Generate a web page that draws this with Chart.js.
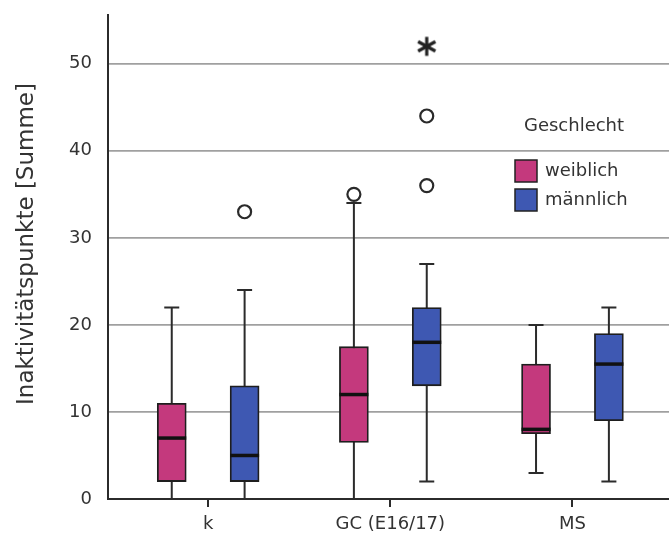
<!DOCTYPE html>
<html>
<head>
<meta charset="utf-8">
<script src="https://cdn.jsdelivr.net/npm/chart.js@4/dist/chart.umd.min.js"></script>
<style>
  html, body { margin: 0; padding: 0; background: #fff; overflow: hidden; }
</style>
</head>
<body>
<canvas id="chart" width="669" height="537"></canvas>
<script>
// Categories and groups
const categories = ['k', 'GC (E16/17)', 'MS'];
const groups = ['weiblich', 'männlich'];
const legendTitle = 'Geschlecht';
const yTitle = 'Inaktivitätspunkte [Summe]';
const yTicks = [0, 10, 20, 30, 40, 50];

// Five-number summaries per category (weiblich)
const femaleMin    = [0, 0, 3];
const femaleQ1     = [2, 6.5, 7.5];
const femaleMedian = [7, 12, 8];
const femaleQ3     = [11, 17.5, 15.5];
const femaleMax    = [22, 34, 20];

// Five-number summaries per category (männlich)
const maleMin    = [0, 2, 2];
const maleQ1     = [2, 13, 9];
const maleMedian = [5, 18, 15.5];
const maleQ3     = [13, 22, 19];
const maleMax    = [24, 27, 22];

// Outliers (circles) and extreme values (asterisks): [category index, value]
const femaleOutliers = [[1, 35]];
const maleOutliers   = [[0, 33], [1, 44], [1, 36]];
const maleExtremes   = [[1, 52]];

// Styling
const FONT = 'DejaVu Sans';
const TEXT = '#333333';
const COLORS = ['#c4397d', '#3e58b2'];
const GROUP_OFFSET = 0.2;   // horizontal shift of each group within a category (x units)

const groupX = (i, g) => i + 1 + (g === 0 ? -GROUP_OFFSET : GROUP_OFFSET);

const stats = [
  { min: femaleMin, q1: femaleQ1, med: femaleMedian, q3: femaleQ3, max: femaleMax },
  { min: maleMin,   q1: maleQ1,   med: maleMedian,   q3: maleQ3,   max: maleMax }
];

// Six-spoke asterisk used for extreme values
function makeAsterisk() {
  const c = document.createElement('canvas');
  c.width = 24; c.height = 24;
  const g = c.getContext('2d');
  g.strokeStyle = '#222';
  g.lineWidth = 3.2;
  for (let k = 0; k < 3; k++) {
    const a = Math.PI / 2 + k * Math.PI / 3;
    g.beginPath();
    g.moveTo(12 - Math.cos(a) * 10, 12 - Math.sin(a) * 9.5);
    g.lineTo(12 + Math.cos(a) * 10, 12 + Math.sin(a) * 9.5);
    g.stroke();
  }
  return c;
}

// Whiskers behind the boxes, medians on top
const boxWhiskers = {
  id: 'boxWhiskers',
  beforeDatasetsDraw(chart) {
    const { ctx, scales: { y } } = chart;
    ctx.save();
    ctx.strokeStyle = '#2b2b2b';
    ctx.lineWidth = 2;
    [0, 1].forEach(g => {
      chart.getDatasetMeta(g).data.forEach((el, i) => {
        const s = stats[g];
        const x = el.x;
        const yMin = y.getPixelForValue(s.min[i]);
        const yMax = y.getPixelForValue(s.max[i]);
        ctx.beginPath();
        ctx.moveTo(x, yMin); ctx.lineTo(x, yMax);
        ctx.moveTo(x - 7.5, yMax); ctx.lineTo(x + 7.5, yMax);
        ctx.moveTo(x - 7.5, yMin); ctx.lineTo(x + 7.5, yMin);
        ctx.stroke();
      });
    });
    ctx.restore();
  },
  afterDatasetsDraw(chart) {
    const { ctx, scales: { y } } = chart;
    ctx.save();
    ctx.strokeStyle = '#111111';
    ctx.lineWidth = 3.5;
    [0, 1].forEach(g => {
      chart.getDatasetMeta(g).data.forEach((el, i) => {
        const ym = y.getPixelForValue(stats[g].med[i]);
        ctx.beginPath();
        ctx.moveTo(el.x - el.width / 2, ym);
        ctx.lineTo(el.x + el.width / 2, ym);
        ctx.stroke();
      });
    });
    ctx.restore();
  }
};

// Legend with title and square swatches, plus the vertical axis title
const annotations = {
  id: 'annotations',
  afterDraw(chart) {
    const { ctx } = chart;
    ctx.save();
    ctx.fillStyle = TEXT;
    ctx.textBaseline = 'middle';
    ctx.font = `18px "${FONT}"`;
    ctx.textAlign = 'center';
    ctx.fillText(legendTitle, 574, 126);
    ctx.textAlign = 'left';
    groups.forEach((name, g) => {
      const top = 160 + g * 29;
      ctx.fillStyle = COLORS[g];
      ctx.fillRect(515, top, 22, 22);
      ctx.strokeStyle = '#222';
      ctx.lineWidth = 1.5;
      ctx.strokeRect(515, top, 22, 22);
      ctx.fillStyle = TEXT;
      ctx.fillText(name, 545, top + 11);
    });
    // axis title, rotated
    ctx.translate(27, 244);
    ctx.rotate(-Math.PI / 2);
    ctx.textAlign = 'center';
    ctx.font = `23px "${FONT}"`;
    ctx.fillText(yTitle, 0, 0);
    ctx.restore();
  }
};

const boxDatasets = groups.map((name, g) => ({
  type: 'bar',
  label: name,
  order: 2,
  data: categories.map((_, i) => ({ x: groupX(i, g), y: [stats[g].q1[i], stats[g].q3[i]] })),
  backgroundColor: COLORS[g],
  borderColor: '#1e1e1e',
  borderWidth: 1.8,
  borderSkipped: false,
  barThickness: 29,
  grouped: false
}));

const outlierDataset = {
  type: 'scatter',
  label: 'Ausreißer',
  order: 0,
  data: [
    ...femaleOutliers.map(([i, v]) => ({ x: groupX(i, 0), y: v })),
    ...maleOutliers.map(([i, v]) => ({ x: groupX(i, 1), y: v }))
  ],
  pointStyle: 'circle',
  pointRadius: 6.5,
  pointBackgroundColor: '#ffffff',
  pointBorderColor: '#2a2a2a',
  pointBorderWidth: 2.2
};

const extremeDataset = {
  type: 'scatter',
  label: 'Extremwerte',
  order: 0,
  data: maleExtremes.map(([i, v]) => ({ x: groupX(i, 1), y: v })),
  pointStyle: makeAsterisk(),
  pointRadius: 10
};

new Chart(document.getElementById('chart'), {
  type: 'bar',
  data: { datasets: [...boxDatasets, outlierDataset, extremeDataset] },
  plugins: [boxWhiskers, annotations],
  options: {
    responsive: false,
    animation: false,
    devicePixelRatio: 1,
    layout: { autoPadding: false, padding: { top: 15, left: 0, right: 0, bottom: 0 } },
    plugins: { legend: { display: false }, tooltip: { enabled: false } },
    scales: {
      x: {
        type: 'linear',
        offset: false,
        min: 0.45,
        max: 3.53,
        afterBuildTicks: s => { s.ticks = categories.map((_, i) => ({ value: i + 1 })); },
        afterFit: s => { s.height = 38; s.paddingLeft = 0; s.paddingRight = 0; },
        ticks: {
          callback: (v, idx) => categories[idx],
          font: { family: FONT, size: 18 },
          color: TEXT,
          padding: 7,
          autoSkip: false,
          maxRotation: 0
        },
        grid: { offset: false, drawOnChartArea: false, drawTicks: true, tickLength: 8, color: '#2b2b2b', lineWidth: 2 },
        border: { color: '#2b2b2b', width: 2 }
      },
      y: {
        min: 0,
        max: 55.6,
        afterBuildTicks: s => { s.ticks = yTicks.map(v => ({ value: v })); },
        afterFit: s => { s.width = 108; s.paddingTop = 0; s.paddingBottom = 0; },
        ticks: { font: { family: FONT, size: 18 }, color: TEXT, padding: 16 },
        grid: { color: '#a0a0a0', lineWidth: 1.8, drawTicks: false },
        border: { color: '#2b2b2b', width: 2 }
      }
    }
  }
});
</script>
</body>
</html>
